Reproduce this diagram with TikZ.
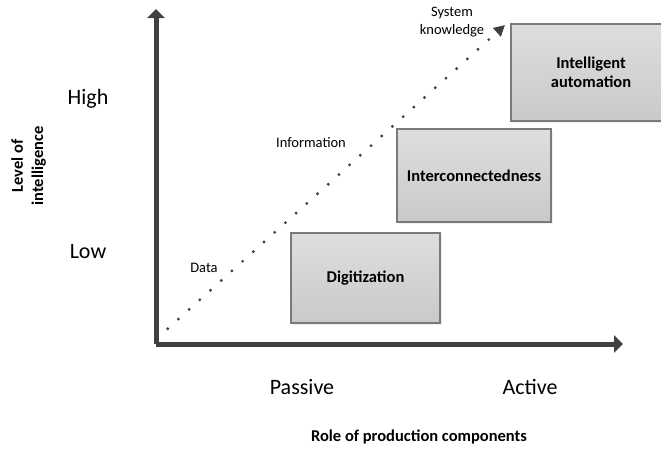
\documentclass[tikz,border=0pt]{standalone}
\usepackage{fontspec}
\setmainfont{Carlito}
\usetikzlibrary{arrows.meta,shadows}

\definecolor{axisgray}{HTML}{404040}
\definecolor{boxline}{HTML}{7A7A7A}

\tikzset{
    stage/.style={draw=boxline, line width=1.2pt, top color=black!13, bottom color=black!21,
        drop shadow={shadow xshift=2pt, shadow yshift=-2pt, fill=black!12},
        inner sep=0pt, align=center, font=\fontsize{16.5}{19}\selectfont\bfseries},
    level/.style={font=\fontsize{22}{26}\selectfont},
    note/.style={font=\fontsize{14.5}{18}\selectfont, align=center},
    axistitle/.style={font=\fontsize{16.5}{20}\selectfont\bfseries, align=center},
}

\begin{document}
\begin{tikzpicture}[x=1pt,y=-1pt]
    \useasboundingbox (0,0) rectangle (661,448);

    \coordinate (o) at (156,344);
    \coordinate (ytop) at (156,9);
    \coordinate (xend) at (623,344);
    \coordinate (d0) at (167.7,328.7);
    \coordinate (d1) at (505,25);

    \node[stage, minimum width=149pt, minimum height=90pt] (dig) at (365.5,278) {Digitization};
    \node[stage, minimum width=154pt, minimum height=93pt] (inter) at (474,175.5) {Interconnectedness};
    \node[stage, minimum width=160pt, minimum height=97pt] (auto) at (591,72.5) {Intelligent\\automation};

    \node[level] (high) at (88,99) {High};
    \node[level] (low) at (88,252) {Low};
    \node[level] (pas) at (302,387) {Passive};
    \node[level] (act) at (530,387) {Active};

    \node[note] (data) at (204,268) {Data};
    \node[note] (info) at (311,143) {Information};
    \node[note] (know) at (452,22) {System\\knowledge};

    \node[axistitle, rotate=90] (ylab) at (29,166) {\begin{tabular}{@{}c@{}}Level of\\intelligence\end{tabular}};
    \node[axistitle] (xlab) at (419,437) {Role of production components};

    \begin{scope}[every path/.style={draw=axisgray, line width=5pt, -{Triangle[length=9pt,width=17pt]}}]
       \draw (o) -- (ytop);
       \draw (o) -- (xend);
    \end{scope}

    \draw[axisgray, line width=3.2pt, line cap=round, dash pattern=on 0pt off 14.4pt,
          -{Triangle[length=11pt,width=11pt]}] (d0) -- (d1);

\end{tikzpicture}
\end{document}
